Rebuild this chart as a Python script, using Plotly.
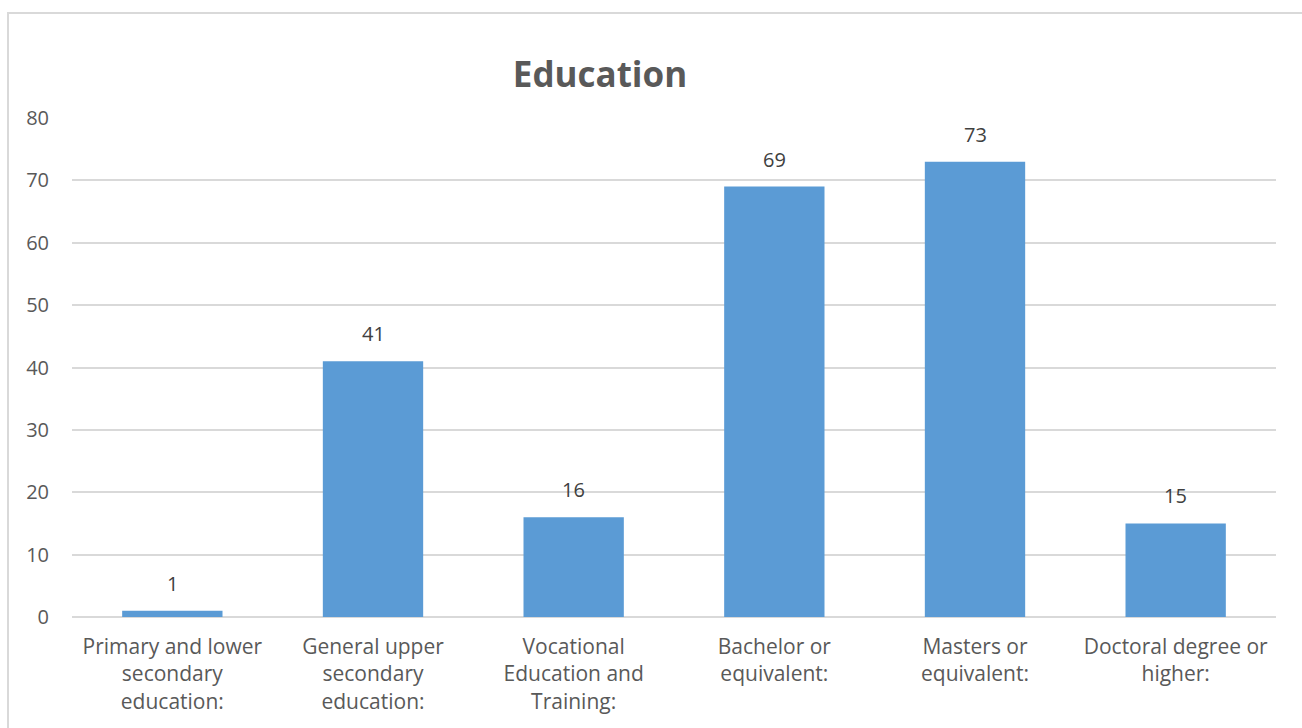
import plotly.graph_objects as go

categories = [
    "Primary and lower<br>secondary<br>education:",
    "General upper<br>secondary<br>education:",
    "Vocational<br>Education and<br>Training:",
    "Bachelor or<br>equivalent:",
    "Masters or<br>equivalent:",
    "Doctoral degree or<br>higher:",
]
values = [1, 41, 16, 69, 73, 15]
y_ticks = [0, 10, 20, 30, 40, 50, 60, 70, 80]

FONT = "Open Sans, Liberation Sans, sans-serif"

fig = go.Figure()
fig.add_trace(go.Bar(
    x=categories,
    y=values,
    marker=dict(color="#5b9bd5", line=dict(width=0)),
    width=0.5,
    hoverinfo="x+y",
))

for c, v in zip(categories, values):
    fig.add_annotation(
        x=c, y=v, text=str(v), showarrow=False,
        yanchor="bottom", yshift=12,
        font=dict(family=FONT, size=20, color="#404040"),
    )

W, H = 1302, 728
L, R, T, B = 72, 26, 118, 111
pw, ph = W - L - R, H - T - B

fig.add_shape(
    type="rect", xref="paper", yref="paper",
    x0=(8 - L) / pw, x1=(1320 - L) / pw,
    y0=-(760 - (H - B)) / ph, y1=1 + (T - 13) / ph,
    line=dict(color="#d9d9d9", width=2), fillcolor="rgba(0,0,0,0)",
    layer="below",
)

fig.update_layout(
    width=W, height=H,
    margin=dict(l=L, r=R, t=T, b=B),
    paper_bgcolor="white", plot_bgcolor="white",
    showlegend=False,
    title=dict(
        text="<b>Education</b>", xref="container", x=600 / W, xanchor="center",
        yref="container", y=1 - 75 / H, yanchor="middle",
        font=dict(family=FONT, size=35, color="#595959"),
    ),
    font=dict(family=FONT, size=20, color="#595959"),
    xaxis=dict(
        showgrid=False, zeroline=False, showline=False,
        ticks="", ticklabelstandoff=15,
        tickfont=dict(family=FONT, size=21, color="#595959"),
    ),
    yaxis=dict(
        range=[0, 80], tickvals=y_ticks,
        showgrid=True, gridcolor="#d9d9d9", gridwidth=1.5,
        zeroline=True, zerolinecolor="#d9d9d9", zerolinewidth=2,
        showline=False, ticks="", ticklabelstandoff=22,
        tickfont=dict(family=FONT, size=20, color="#595959"),
    ),
)

fig.write_html("out.html")
